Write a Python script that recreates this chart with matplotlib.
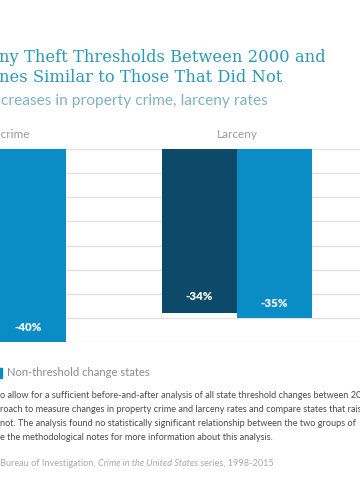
import matplotlib
matplotlib.use("Agg")
import matplotlib.pyplot as plt
from matplotlib.patches import Rectangle
import matplotlib.transforms as mtransforms

# data
groups = ["Property crime", "Larceny"]
threshold_states = [-37, -34]      # dark bars (first one is cut off in the source)
non_threshold_states = [-40, -35]  # light bars
legend_label = "Non-threshold change states"

title_lines = ["ny Theft Thresholds Between 2000 and",
               "nes Similar to Those That Did Not"]
subtitle = "creases in property crime, larceny rates"
note_lines = [
    "o allow for a sufficient before-and-after analysis of all state threshold changes between 2000 and 2012",
    "roach to measure changes in property crime and larceny rates and compare states that raised",
    "not. The analysis found no statistically significant relationship between the two groups of",
    "e the methodological notes for more information about this analysis.",
]
source_parts = [("Bureau of Investigation, ", "normal"),
                ("Crime in the United States", "italic"),
                (" series, 1998-2015", "normal")]

dark = "#0d4a69"
light = "#0a8dc6"
W, H = 360, 504

fig = plt.figure(figsize=(W / 100, H / 100), dpi=100)
fig.patch.set_facecolor("white")

def fx(px):
    return px / W

def fy(py):
    return 1 - py / H

# axes: 0 at y=149px, -40 at y=342px, group centres at x=-9px and 237px
ax = fig.add_axes([0, fy(342), 1, fy(149) - fy(342)])
step = 246.0
ax.set_xlim(9 / step, 369 / step)
ax.set_ylim(-40, 0)
ax.set_yticks(range(-40, 1, 5))
ax.set_xticks([])
ax.tick_params(left=False, labelleft=False)
ax.grid(axis="y", color="#e3e3e3", linewidth=1)
ax.set_axisbelow(True)
for s in ax.spines.values():
    s.set_visible(False)
ax.set_facecolor("none")

bw = 75 / step
x = range(len(groups))
ax.bar([i - bw / 2 for i in x], threshold_states, width=bw, color=dark)
ax.bar([i + bw / 2 for i in x], non_threshold_states, width=bw, color=light)

for i in x:
    ax.text(i - bw / 2, threshold_states[i] + 3.4, f"{threshold_states[i]}%", color="white",
            ha="center", va="center", fontsize=8.3, fontweight="heavy", family="Lato", clip_on=True)
    ax.text(i + bw / 2, non_threshold_states[i] + 3.0, f"{non_threshold_states[i]}%", color="white",
            ha="center", va="center", fontsize=8.3, fontweight="heavy", family="Lato", clip_on=True)

# panel labels
trans = mtransforms.blended_transform_factory(ax.transData, fig.transFigure)
for i, g in enumerate(groups):
    ax.text(i, fy(135), g, transform=trans, ha="center", va="center",
            fontsize=8.5, color="#9a9a9a", family="Lato", clip_on=False)

# title and subtitle
fig.text(fx(-1), fy(57), title_lines[0], fontsize=11.8, color="#2b9ab4",
         family="DejaVu Serif", va="center", ha="left")
fig.text(fx(-1), fy(78), title_lines[1], fontsize=11.8, color="#2b9ab4",
         family="DejaVu Serif", va="center", ha="left")
fig.text(fx(1), fy(101), subtitle, fontsize=11.2, color="#7fb3c3",
         family="Lato", va="center", ha="left")

# legend
fig.patches.append(Rectangle((fx(-8), fy(378)), fx(10), fy(368) - fy(378),
                             transform=fig.transFigure, color=light, figure=fig))
fig.text(fx(7), fy(373), legend_label, fontsize=8.1, color="#8c8c8c",
         family="Lato", va="center", ha="left")

# notes
for k, line in enumerate(note_lines):
    fig.text(fx(0), fy(396 + 14 * k), line, fontsize=6.6, color="#4a4a4a",
             family="Lato", va="center", ha="left")

# source line with italic title
fig.canvas.draw()
renderer = fig.canvas.get_renderer()
xpos = 0
for txt, style in source_parts:
    t = fig.text(fx(xpos), fy(463), txt, fontsize=6.6, color="#a8a8a8", style=style,
                 family="Lato", va="center", ha="left")
    xpos += t.get_window_extent(renderer).width

fig.savefig("out.png", dpi=100)
